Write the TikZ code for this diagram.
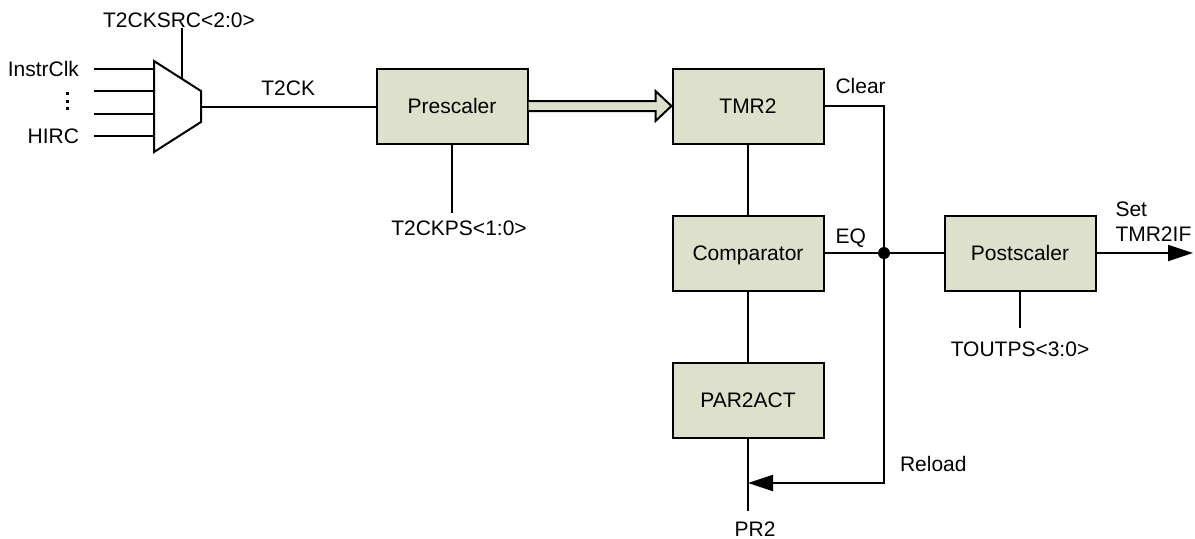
\documentclass[tikz,border=0pt]{standalone}
\usepackage{fontspec}
\setmainfont{Liberation Sans}
\usetikzlibrary{arrows.meta, positioning, calc}
\definecolor{blockfill}{RGB}{221, 224, 203}

\begin{document}
\begin{tikzpicture}[
    x=0.5pt, y=-0.5pt,
    font=\fontsize{10.5}{12.5}\selectfont,
    line width=1pt,
    block/.style={
        rectangle, draw=black, fill=blockfill,
        minimum width=75.5pt, minimum height=37.5pt,
        text depth=0pt, inner sep=0pt
    },
    lbl/.style={inner sep=0pt, text depth=0pt},
    arrow/.style={
        -{Triangle[length=12.5pt, width=8pt]}
    }
]
\useasboundingbox (0,0) rectangle (1195,538);

% Blocks
\node[block] (pre) at (452,106) {Prescaler};
\node[block] (tmr) at (748,106) {TMR2};
\node[block] (cmp) at (748,253) {Comparator};
\node[block] (par) at (748,400) {PAR2ACT};
\node[block] (post) at (1020,253) {Postscaler};

% Clock source multiplexer
\draw[fill=white] (154,61) -- (201,91) -- (201,122) -- (154,152) -- cycle;
\coordinate (muxsel) at (182,79);
\coordinate (muxout) at (201,107);
\foreach \y [count=\i] in {69,91,114,136} {
    \coordinate (src\i) at (94,\y);
    \coordinate (in\i) at (154,\y);
    \draw (src\i) -- (in\i);
}
\node[lbl, anchor=east] (instr) at (80,69) {InstrClk};
\node[lbl, anchor=east] (hirc) at (80,136) {HIRC};
\foreach \y in {93,101,108}
    \fill (65.5,\y-1.5) rectangle ++(3,3);
\node[lbl] (srclbl) at (179,20) {T2CKSRC<2:0>};
\draw (muxsel) -- (muxsel |- srclbl.south);

% Clock path
\draw (muxout) -- node[lbl, above=5.5pt] {T2CK} (muxout -| pre.west);
\draw (pre.south) -- ++(0,68) node[lbl, below=3.7pt, xshift=3.5pt] {T2CKPS<1:0>};
\draw[fill=blockfill] ($(pre.east)+(0,-5)$) -- ($(tmr.west)+(-16,-5)$)
    -- ($(tmr.west)+(-16,-15)$) -- (tmr.west) -- ($(tmr.west)+(-16,15)$)
    -- ($(tmr.west)+(-16,5)$) -- ($(pre.east)+(0,5)$);

% Compare chain
\draw (tmr) -- (cmp);
\draw (cmp) -- (par);
\draw (par.south) -- ++(0,72) node[lbl, below=5pt, xshift=3.5pt] {PR2};

% Clear / reload loop
\coordinate (rld) at (884,483);
\coordinate (bus) at (cmp.east -| rld);
\draw[arrow] (tmr.east) -| (rld) -- (rld -| par.south);
\node[lbl, anchor=south west] (clr) at ([xshift=5pt, yshift=6pt]tmr.east) {Clear};
\node[lbl, anchor=south west] (eq) at ([xshift=5pt, yshift=4.5pt]cmp.east) {EQ};
\node[lbl, anchor=south west] (rldlbl) at ([xshift=7.5pt, yshift=5.5pt]rld) {Reload};
\draw (cmp) -- (post);
\fill (bus) circle (3pt);

% Postscaler and flag
\draw (post.south) -- ++(0,36) node[lbl, below=6.7pt] {TOUTPS<3:0>};
\coordinate (out) at (1193,253);
\draw[arrow] (post) -- (out);
\node[inner sep=0pt, align=left, anchor=south west] (flag) at ([xshift=9pt, yshift=5.5pt]post.east) {Set\\TMR2IF};

\end{tikzpicture}
\end{document}
